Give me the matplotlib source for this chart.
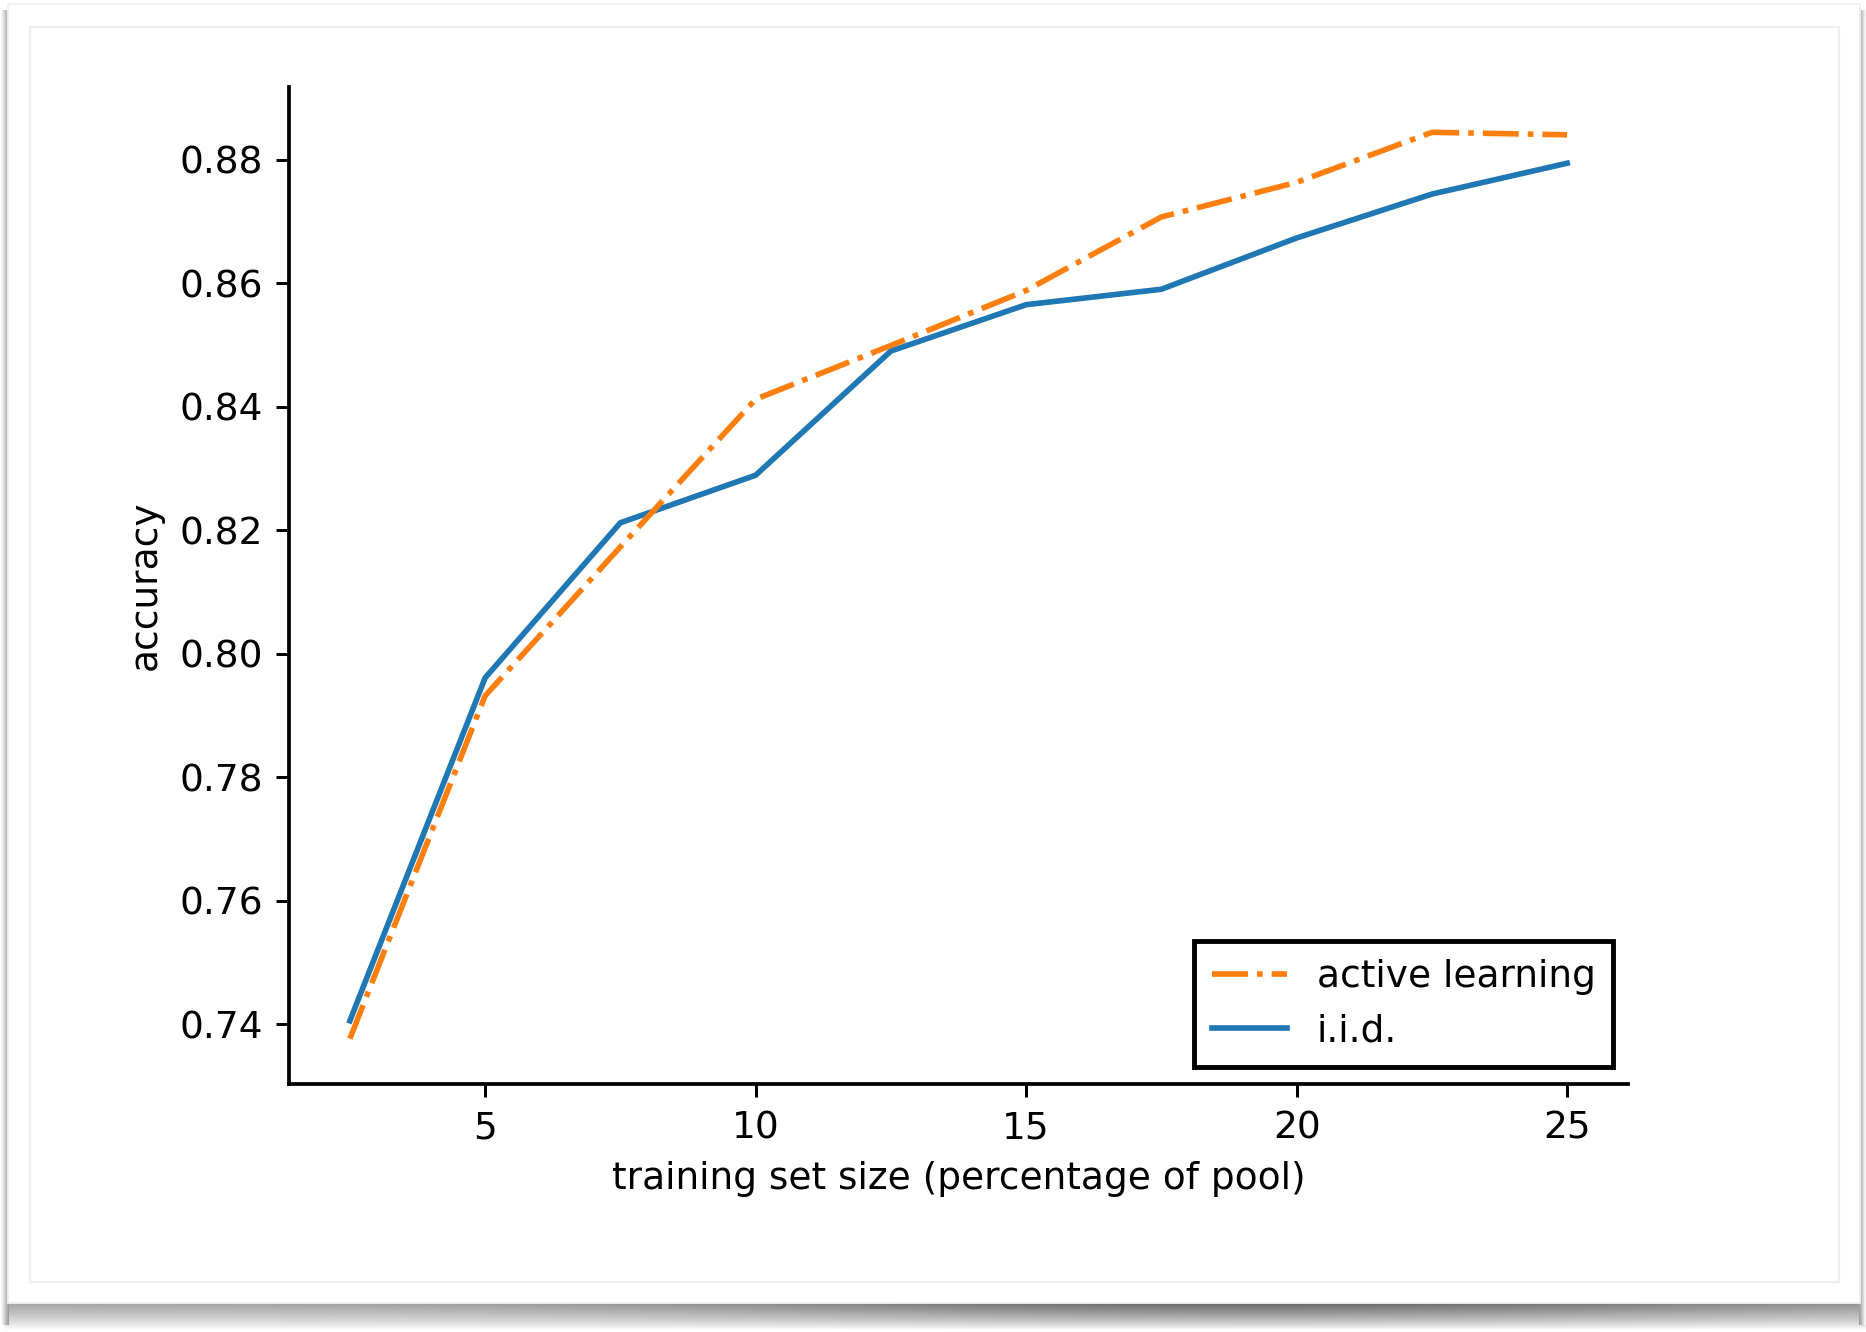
import numpy as np
import matplotlib.pyplot as plt
from matplotlib.patches import Rectangle

# training set size (percentage of pool)
sizes = [2.5, 5, 7.5, 10, 12.5, 15, 17.5, 20, 22.5, 25]
active_acc = [0.7377, 0.7932, 0.8173, 0.8412, 0.8499, 0.8588, 0.8707, 0.8763, 0.8844, 0.8840]
iid_acc = [0.7406, 0.7961, 0.8212, 0.8289, 0.8490, 0.8565, 0.8590, 0.8673, 0.8744, 0.8794]

W, H = 1866, 1332
dpi = 270
fig = plt.figure(figsize=(W / dpi, H / dpi), dpi=dpi)
fig.patch.set_facecolor('white')

# --- screenshot-style frame with drop shadow ---
bg = fig.add_axes([0, 0, 1, 1], zorder=0)
bg.set_xlim(0, W)
bg.set_ylim(H, 0)
bg.axis('off')

# bottom shadow band: dark near the frame, fading downward, darker right of centre
yy = np.linspace(0, 1, 40)[:, None]
xx = np.linspace(0, 1, 400)[None, :]
strength = 0.6 + 0.4 * np.exp(-((xx - 0.68) / 0.3) ** 2)
shade = 1 - (0.62 * strength) * (1 - yy) ** 0.8
bg.imshow(shade, cmap='gray', vmin=0, vmax=1, extent=(4, W, 1330, 1301),
          aspect='auto', interpolation='bilinear', zorder=1)
# thin side shadows
side = 1 - 0.4 * np.linspace(0, 1, 20)[None, :]
bg.imshow(side, cmap='gray', vmin=0, vmax=1, extent=(1, 9, 1325, 10),
          aspect='auto', interpolation='bilinear', zorder=1)
bg.imshow(side[:, ::-1], cmap='gray', vmin=0, vmax=1, extent=(1859, W, 1325, 10),
          aspect='auto', interpolation='bilinear', zorder=1)

bg.add_patch(Rectangle((8, 4), 1852, 1299, facecolor='white', edgecolor='#f0f0f0',
                       lw=0.5, zorder=2))
bg.add_patch(Rectangle((30, 27), 1809, 1255, facecolor='none', edgecolor='#eeeeee',
                       lw=0.6, zorder=3))

# --- the actual chart ---
ax = fig.add_axes([289 / W, 1 - 1084 / H, (1628 - 289) / W, (1084 - 87) / H], zorder=2)
ax.patch.set_alpha(0)

l_iid, = ax.plot(sizes, iid_acc, color='#1f77b4', lw=1.5, label='i.i.d.')
l_act, = ax.plot(sizes, active_acc, color='#ff7f0e', lw=1.5, linestyle='-.',
                 label='active learning')

ax.spines['top'].set_visible(False)
ax.spines['right'].set_visible(False)
for s in ['left', 'bottom']:
    ax.spines[s].set_linewidth(1.0)

ax.set_xticks([5, 10, 15, 20, 25])
ax.set_yticks([0.74, 0.76, 0.78, 0.80, 0.82, 0.84, 0.86, 0.88])
ax.tick_params(labelsize=10)
ax.set_xlabel('training set size (percentage of pool)', fontsize=10)
ax.set_ylabel('accuracy', fontsize=10)

leg = ax.legend(handles=[l_act, l_iid], loc='lower right', fancybox=False,
                edgecolor='black', framealpha=1, fontsize=10, borderpad=0.47,
                borderaxespad=0, bbox_to_anchor=(0.989, 0.017))
leg.get_frame().set_linewidth(1.3)

fig.savefig('out.png', dpi=dpi)
